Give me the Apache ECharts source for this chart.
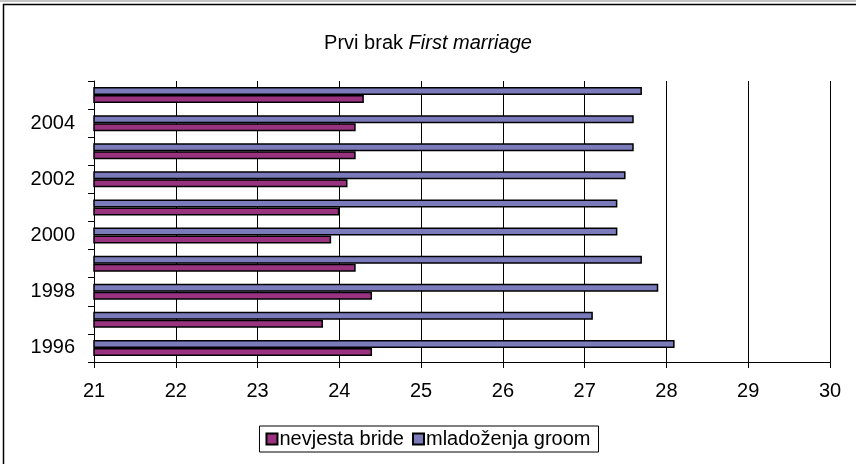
<!DOCTYPE html>
<html>
<head>
<meta charset="utf-8">
<script src="https://cdn.jsdelivr.net/npm/echarts@6/dist/echarts.min.js"></script>
<style>
html, body { margin: 0; padding: 0; background: #fff; }
#chart { width: 856px; height: 464px; }
</style>
</head>
<body>
<div id="chart"></div>
<script>
// godine (odozdo prema gore)
var years = ['1996', '1997', '1998', '1999', '2000', '2001', '2002', '2003', '2004', '2005'];
var bride = [24.4, 23.8, 24.4, 24.2, 23.9, 24.0, 24.1, 24.2, 24.2, 24.3]; // nevjesta
var groom = [28.1, 27.1, 27.9, 27.7, 27.4, 27.4, 27.5, 27.6, 27.6, 27.7]; // mladozenja
var xTicks = [21, 30, 1]; // min, max, interval

var myChart = echarts.init(document.getElementById('chart'));
var font = '"Liberation Sans", Arial, sans-serif';

var option = {
    animation: false,
    textStyle: { fontFamily: font },
    title: {
        text: '{n|Prvi brak }{i|First marriage}',
        left: 'center',
        top: 28,
        textStyle: {
            rich: {
                n: { fontSize: 20, color: '#000', fontFamily: font, fontWeight: 'normal' },
                i: { fontSize: 20, color: '#000', fontStyle: 'italic', fontFamily: font, fontWeight: 'normal' }
            }
        }
    },
    graphic: [{
        type: 'rect',
        shape: { x: 3.5, y: 4.5, width: 900, height: 500 },
        style: { fill: 'none', stroke: '#000', lineWidth: 1.5 },
        silent: true
    }, {
        type: 'line',
        shape: { x1: 0, y1: 1, x2: 856, y2: 1 },
        style: { stroke: '#888', lineWidth: 1 },
        silent: true
    }],
    legend: {
        bottom: 12,
        left: 'center',
        data: ['nevjesta bride', 'mladoženja groom'],
        icon: 'rect',
        itemWidth: 11,
        itemHeight: 11,
        itemGap: 8,
        padding: [3, 8, 3, 6],
        borderColor: '#000',
        borderWidth: 1,
        textStyle: { fontSize: 20, color: '#000', fontFamily: font, padding: [0, 0, 0, -3] }
    },
    grid: { left: 94, right: 26, top: 81, bottom: 102, containLabel: false },
    xAxis: {
        type: 'value',
        min: xTicks[0],
        max: xTicks[1],
        interval: xTicks[2],
        axisLine: { show: true, lineStyle: { color: '#000', width: 1 } },
        axisTick: { show: true, length: 6, lineStyle: { color: '#000' } },
        axisLabel: { fontSize: 20, color: '#000', margin: 19, fontFamily: font },
        splitLine: { show: true, lineStyle: { color: '#000', width: 1 } }
    },
    yAxis: {
        type: 'category',
        data: years,
        axisLine: { show: true, lineStyle: { color: '#000', width: 1 } },
        axisTick: { show: true, length: 6, interval: 0, lineStyle: { color: '#000' } },
        axisLabel: { interval: 1, fontSize: 20, color: '#000', margin: 19, fontFamily: font },
        splitLine: { show: false }
    },
    // groom first so it sits above the bride bar in each year
    series: [{
        name: 'mladoženja groom',
        type: 'bar',
        data: groom,
        barWidth: 8,
        barGap: '0%',
        itemStyle: { color: '#7b7bbb', borderColor: '#000', borderWidth: 1.5 }
    }, {
        name: 'nevjesta bride',
        type: 'bar',
        data: bride,
        barWidth: 8,
        barGap: '0%',
        itemStyle: { color: '#993380', borderColor: '#000', borderWidth: 1.5 }
    }]
};
myChart.setOption(option);
</script>
</body>
</html>
